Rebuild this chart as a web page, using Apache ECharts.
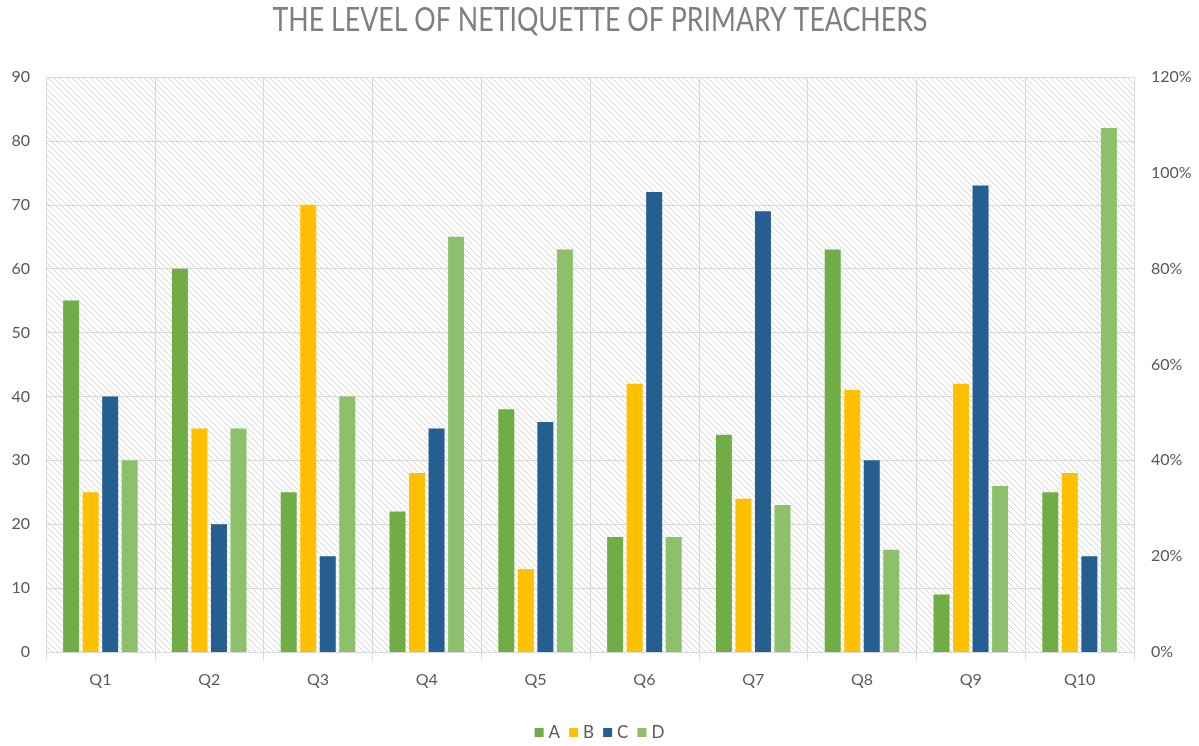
<!DOCTYPE html>
<html><head><meta charset="utf-8">
<script src="https://cdn.jsdelivr.net/npm/echarts@6/dist/echarts.min.js"></script>
<style>html,body{margin:0;padding:0;background:#fff}#c{width:1199px;height:746px}</style>
</head><body><div id="c"></div>
<script>
const categories = ['Q1','Q2','Q3','Q4','Q5','Q6','Q7','Q8','Q9','Q10'];
const seriesNames = ['A','B','C','D'];
const valuesA = [55,60,25,22,38,18,34,63,9,25];
const valuesB = [25,35,70,28,13,42,24,41,42,28];
const valuesC = [40,20,15,35,36,72,69,30,73,15];
const valuesD = [30,35,40,65,63,18,23,16,26,82];
const colors = ['#70AD47','#FFC000','#255E91','#8CC06A'];
const titleText = 'THE LEVEL OF NETIQUETTE OF PRIMARY TEACHERS';

const pc = document.createElement('canvas');
pc.width = 6; pc.height = 6;
const g = pc.getContext('2d');
g.fillStyle = '#ffffff'; g.fillRect(0,0,6,6);
g.strokeStyle = '#d6d6d6'; g.lineWidth = 1;
g.beginPath();
g.moveTo(-1,-1); g.lineTo(7,7);
g.moveTo(-7,-1); g.lineTo(1,7);
g.moveTo(5,-1); g.lineTo(13,7);
g.stroke();

// measure title to fit reference width
const mc = document.createElement('canvas').getContext('2d');
const titleFont = '32px Lato, sans-serif';
mc.font = titleFont;
const tw = mc.measureText(titleText).width;
const sx = 655 / tw;

const chart = echarts.init(document.getElementById('c'));
const data = [valuesA, valuesB, valuesC, valuesD];
const font = 'Lato, "Open Sans", sans-serif';
chart.setOption({
  animation:false,
  graphic:[{type:'text',x:600,y:21,originX:0,originY:0,scaleX:sx,scaleY:1,
    style:{text:titleText,font:titleFont,fill:'#7f7f7f',align:'center',verticalAlign:'middle'}}],
  legend:{bottom:0,left:'center',itemWidth:9,itemHeight:9,itemGap:9,icon:'rect',
    textStyle:{fontFamily:font,fontSize:17,color:'#595959'},data:seriesNames},
  grid:{left:46,right:65,top:77,bottom:94,show:true,borderWidth:0,
    backgroundColor:{image:pc,repeat:'repeat'}},
  xAxis:{type:'category',data:categories,
    axisLine:{lineStyle:{color:'#d9d9d9'}},
    axisTick:{show:true,length:8,lineStyle:{color:'#d9d9d9'}},
    splitLine:{show:true,lineStyle:{color:'#d9d9d9',width:1}},
    axisLabel:{fontFamily:font,fontSize:16,color:'#595959',margin:20}},
  yAxis:[
    {type:'value',min:0,max:90,interval:10,
     axisLine:{show:false},axisTick:{show:false},
     splitLine:{lineStyle:{color:'#d9d9d9'}},
     axisLabel:{fontFamily:font,fontSize:16,color:'#595959',margin:16}},
    {type:'value',min:0,max:1.2,interval:0.2,position:'right',
     axisLine:{show:false},axisTick:{show:false},splitLine:{show:false},
     axisLabel:{fontFamily:font,fontSize:16,color:'#595959',margin:17,
       formatter:v=>Math.round(v*100)+'%'}}
  ],
  series: seriesNames.map((n,i)=>({name:n,type:'bar',data:data[i],
    barWidth:16,barGap:'22%',barCategoryGap:'33%',
    itemStyle:{color:colors[i]}}))
});
</script></body></html>
